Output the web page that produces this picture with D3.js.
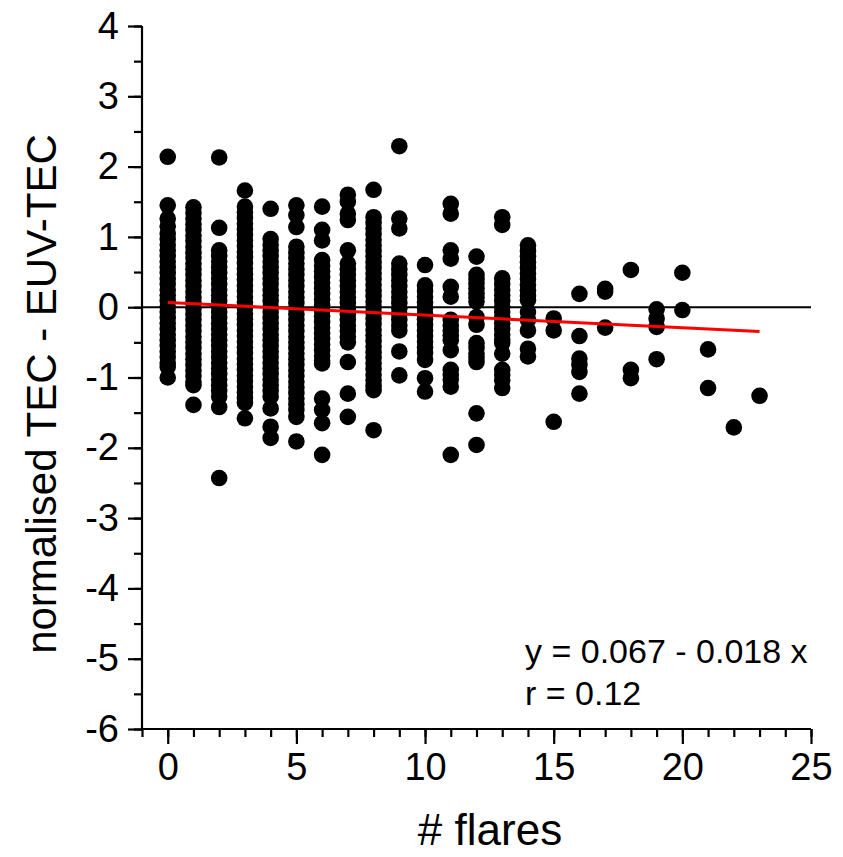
<!DOCTYPE html>
<html>
<head>
<meta charset="utf-8">
<script src="https://cdn.jsdelivr.net/npm/d3@7"></script>
<style>
  html, body { margin: 0; padding: 0; background: #fff; }
  text { font-family: Arial, "Liberation Sans", sans-serif; fill: #000; }
</style>
</head>
<body>
<svg width="843" height="857"></svg>
<script>
const chart = d3.select("svg");

// flare counts (x categories)
const flareCounts = [0, 1, 2, 3, 4, 5, 6, 7, 8, 9, 10, 11, 12, 13, 14, 15, 16, 17, 18, 19, 20, 21, 22, 23];

// normalised TEC - EUV-TEC values
const col0 = [2.14, 1.45, 1.26, 1.15, 1.05, 0.97, 0.89, 0.81, 0.73, 0.65, 0.57, 0.49, 0.41, 0.33, 0.25, 0.17, 0.09, 0.01, -0.07, -0.15, -0.23, -0.31, -0.39, -0.47, -0.55, -0.63, -0.71, -0.79, -0.85, -1.00];
const col1 = [1.42, 1.34, 1.26, 1.18, 1.10, 1.02, 0.94, 0.86, 0.78, 0.70, 0.62, 0.54, 0.46, 0.38, 0.30, 0.22, 0.14, 0.06, -0.02, -0.10, -0.18, -0.26, -0.34, -0.42, -0.50, -0.58, -0.66, -0.74, -0.82, -0.90, -0.98, -1.06, -1.11, -1.39];
const col2 = [2.13, 1.13, 0.81, 0.73, 0.65, 0.57, 0.49, 0.41, 0.33, 0.25, 0.17, 0.09, 0.01, -0.07, -0.15, -0.23, -0.31, -0.39, -0.47, -0.55, -0.63, -0.71, -0.79, -0.87, -0.95, -1.03, -1.11, -1.19, -1.27, -1.42, -2.43];
const col3 = [1.66, 1.43, 1.35, 1.27, 1.19, 1.11, 1.03, 0.95, 0.87, 0.79, 0.71, 0.63, 0.55, 0.47, 0.39, 0.31, 0.23, 0.15, 0.07, -0.01, -0.09, -0.17, -0.25, -0.33, -0.41, -0.49, -0.57, -0.65, -0.73, -0.81, -0.89, -0.97, -1.05, -1.13, -1.21, -1.29, -1.36, -1.58];
const col4 = [1.40, 0.97, 0.89, 0.81, 0.73, 0.65, 0.57, 0.49, 0.41, 0.33, 0.25, 0.17, 0.09, 0.01, -0.07, -0.15, -0.23, -0.31, -0.39, -0.47, -0.55, -0.63, -0.71, -0.79, -0.87, -0.95, -1.03, -1.11, -1.19, -1.27, -1.44, -1.70, -1.86];
const col5 = [1.45, 1.31, 1.14, 0.86, 0.78, 0.70, 0.62, 0.54, 0.46, 0.38, 0.30, 0.22, 0.14, 0.06, -0.02, -0.10, -0.18, -0.26, -0.34, -0.42, -0.50, -0.58, -0.66, -0.74, -0.82, -0.90, -0.98, -1.06, -1.14, -1.22, -1.30, -1.38, -1.46, -1.56, -1.91];
const col6 = [1.43, 1.10, 0.95, 0.67, 0.59, 0.51, 0.43, 0.35, 0.27, 0.19, 0.11, 0.03, -0.05, -0.13, -0.21, -0.29, -0.37, -0.45, -0.53, -0.61, -0.69, -0.76, -0.80, -1.30, -1.46, -1.65, -2.10];
const col7 = [1.60, 1.50, 1.33, 1.24, 0.81, 0.62, 0.54, 0.46, 0.38, 0.30, 0.22, 0.14, 0.06, -0.02, -0.10, -0.18, -0.26, -0.34, -0.42, -0.50, -0.78, -1.23, -1.56];
const col8 = [1.67, 1.28, 1.20, 1.12, 1.04, 0.96, 0.88, 0.80, 0.72, 0.64, 0.56, 0.48, 0.40, 0.32, 0.24, 0.16, 0.08, 0.00, -0.08, -0.16, -0.24, -0.32, -0.40, -0.48, -0.56, -0.64, -0.72, -0.80, -0.88, -0.96, -1.04, -1.12, -1.18, -1.75];
const col9 = [2.29, 1.26, 1.12, 0.62, 0.54, 0.46, 0.38, 0.30, 0.22, 0.14, 0.06, -0.02, -0.10, -0.18, -0.26, -0.33, -0.63, -0.97];
const col10 = [0.60, 0.31, 0.23, 0.15, 0.07, -0.01, -0.09, -0.17, -0.25, -0.33, -0.41, -0.49, -0.57, -0.65, -0.75, -1.01, -1.20];
const col11 = [1.47, 1.33, 0.81, 0.69, 0.29, 0.15, -0.18, -0.26, -0.33, -0.40, -0.47, -0.61, -0.89, -0.96, -1.03, -1.13, -2.10];
const col12 = [0.72, 0.46, 0.40, 0.34, 0.27, 0.20, 0.14, 0.08, -0.14, -0.25, -0.51, -0.58, -0.66, -0.72, -0.78, -1.51, -1.96];
const col13 = [1.28, 1.17, 0.41, 0.33, 0.25, 0.17, 0.09, 0.01, -0.07, -0.15, -0.23, -0.31, -0.39, -0.46, -0.51, -0.66, -0.89, -0.96, -1.04, -1.15];
const col14 = [0.88, 0.80, 0.72, 0.64, 0.56, 0.48, 0.40, 0.32, 0.24, 0.16, 0.10, -0.07, -0.18, -0.33, -0.59, -0.70];
const col15 = [-0.16, -0.33, -1.63];
const col16 = [0.19, -0.41, -0.73, -0.82, -0.92, -1.23];
const col17 = [0.26, 0.22, -0.29];
const col18 = [0.53, -0.89, -1.01];
const col19 = [-0.03, -0.16, -0.28, -0.74];
const col20 = [0.49, -0.04];
const col21 = [-0.60, -1.15];
const col22 = [-1.71];
const col23 = [-1.26];

const columns = [col0, col1, col2, col3, col4, col5, col6, col7, col8, col9, col10, col11,
                 col12, col13, col14, col15, col16, col17, col18, col19, col20, col21, col22, col23];

// linear fit
const fitIntercept = 0.067, fitSlope = -0.018;
const fitRange = [0, 23];

const xTicks = [0, 5, 10, 15, 20, 25];
const yTicks = [-6, -5, -4, -3, -2, -1, 0, 1, 2, 3, 4];

const fitLabel = "y = 0.067 - 0.018 x";
const rLabel = "r = 0.12";

// flatten columns into points
let points = [];
columns.forEach((vals, i) => {
    vals.forEach((v) => points.push({ x: flareCounts[i], y: v }));
});

const xScale = d3.scaleLinear().domain([-1, 25]).range([142, 811]);
const yScale = d3.scaleLinear().domain([-6, 4]).range([729, 26]);

const TICK_FONT = "38px";

// zero line
chart.append("line")
     .attr("x1", xScale(-1)).attr("x2", xScale(25))
     .attr("y1", yScale(0)).attr("y2", yScale(0))
     .attr("stroke", "#000").attr("stroke-width", 2);

// minor ticks
const xAxisMinor = d3.axisBottom(xScale)
                     .tickValues(d3.range(-1, 26, 1))
                     .tickSize(8).tickFormat("");
const yAxisMinor = d3.axisLeft(yScale)
                     .tickValues(d3.range(-6, 4.01, 0.5))
                     .tickSize(8).tickFormat("");

const gxm = chart.append("g").attr("transform", `translate(0, ${yScale(-6)})`).call(xAxisMinor);
const gym = chart.append("g").attr("transform", `translate(${xScale(-1)}, 0)`).call(yAxisMinor);
gxm.select(".domain").remove();
gym.select(".domain").remove();

// major ticks with labels
const xAxis = d3.axisBottom(xScale).tickValues(xTicks).tickSize(15).tickPadding(9)
                .tickFormat(d3.format("d"));
const yAxis = d3.axisLeft(yScale).tickValues(yTicks).tickSize(14).tickPadding(9)
                .tickFormat((d) => d < 0 ? "-" + Math.abs(d) : String(d));

const gx = chart.append("g").attr("transform", `translate(0, ${yScale(-6)})`).call(xAxis);
const gy = chart.append("g").attr("transform", `translate(${xScale(-1)}, 0)`).call(yAxis);

// plain axis lines without end caps
gx.select(".domain").attr("d", `M${xScale(-1)},0H${xScale(25)}`);
gy.select(".domain").attr("d", `M0,${yScale(-6)}V${yScale(4)}`);

chart.selectAll(".domain, .tick line")
     .attr("stroke", "#000").attr("stroke-width", 2.2);

gx.selectAll("text").style("font-size", TICK_FONT).attr("font-family", null);
gy.selectAll("text").style("font-size", TICK_FONT).attr("font-family", null);

// points
chart.append("g")
     .selectAll("circle")
     .data(points)
     .enter()
     .append("circle")
     .attr("cx", (d) => xScale(d.x))
     .attr("cy", (d) => yScale(d.y))
     .attr("r", 8.3)
     .attr("fill", "#000");

// fit line
chart.append("line")
     .attr("x1", xScale(fitRange[0]))
     .attr("y1", yScale(fitIntercept + fitSlope * fitRange[0]))
     .attr("x2", xScale(fitRange[1]))
     .attr("y2", yScale(fitIntercept + fitSlope * fitRange[1]))
     .attr("stroke", "#ff0000")
     .attr("stroke-width", 3);

// axis titles
chart.append("text")
     .attr("x", 490).attr("y", 845)
     .attr("text-anchor", "middle")
     .style("font-size", "44px")
     .text("# flares");

chart.append("text")
     .attr("transform", "translate(56, 394) rotate(-90)")
     .attr("text-anchor", "middle")
     .style("font-size", "42px")
     .text("normalised TEC - EUV-TEC");

// fit annotation
chart.append("text")
     .attr("x", 525).attr("y", 663)
     .style("font-size", "34px")
     .text(fitLabel);
chart.append("text")
     .attr("x", 525).attr("y", 705)
     .style("font-size", "34px")
     .text(rLabel);
</script>
</body>
</html>
